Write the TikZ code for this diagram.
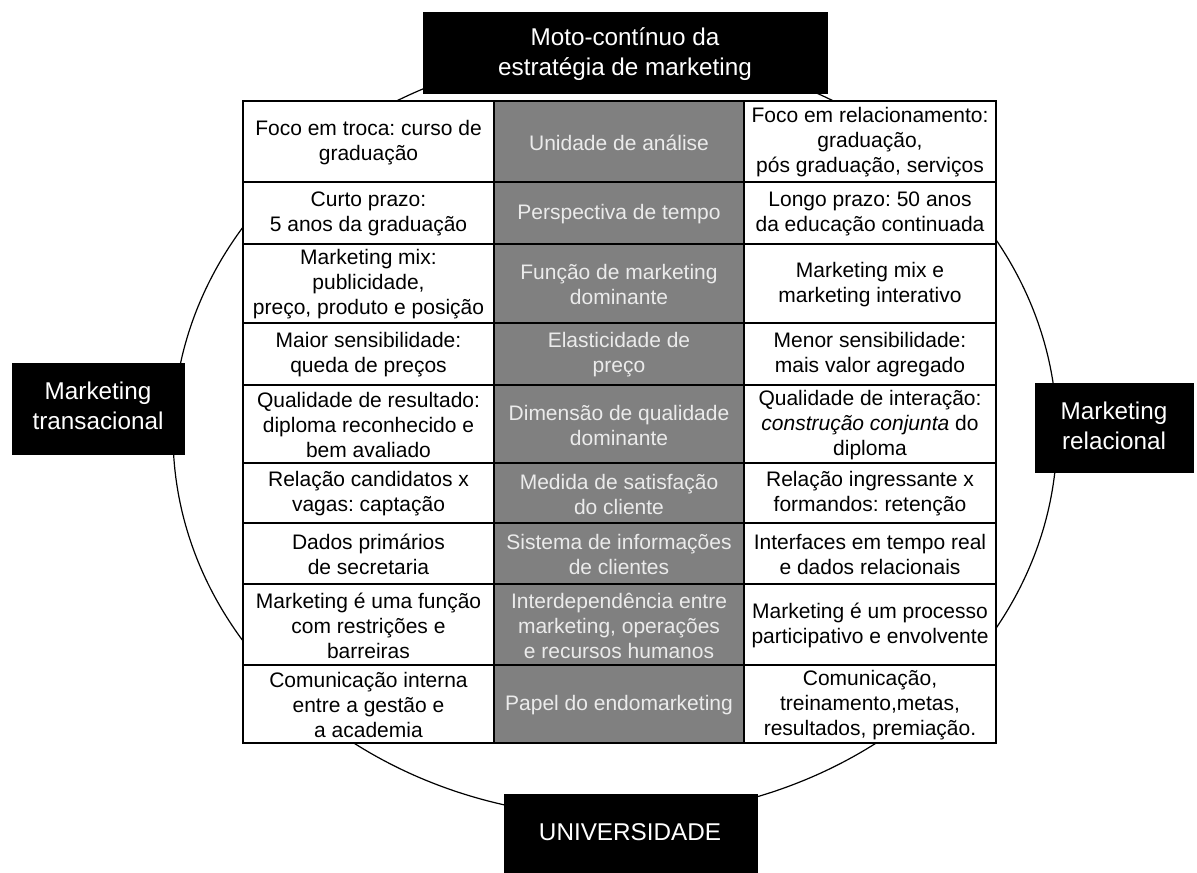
\documentclass[tikz,border=0pt]{standalone}
\usepackage{fontspec}
\setmainfont{Liberation Sans}
\frenchspacing
\definecolor{midgray}{RGB}{128,128,128}
\definecolor{midtext}{RGB}{235,235,235}
\begin{document}
\begin{tikzpicture}[x=0.75pt,y=-0.75pt,
  cellline/.style={draw=black,line width=1.3pt},
  celltext/.style={align=center,inner sep=0pt,font=\fontsize{15.75}{18.75}\selectfont\frenchspacing},
  midtext/.style={celltext,text=midtext},
  blackbox/.style={fill=black,draw=black,text=white,align=center,inner sep=0pt,font=\fontsize{18.2}{22.5}\selectfont},
  ring/.style={draw=black,line width=0.9pt}]
\useasboundingbox (0,0) rectangle (1197,872);
% ring
\draw[ring] (615,434) ellipse [x radius=331.5pt, y radius=287.25pt];
% table
\foreach \i/\ya/\yb/\L/\M/\R in {
 1/101/182/{Foco em troca: curso de\\graduação}/{Unidade de análise}/{Foco em relacionamento:\\graduação,\\pós graduação, serviços},
 2/182/244/{Curto prazo:\\5 anos da graduação}/{Perspectiva de tempo}/{Longo prazo: 50 anos\\da educação continuada},
 3/244/323/{Marketing mix:\\publicidade,\\preço, produto e posição}/{Função de marketing\\dominante}/{Marketing mix e\\marketing interativo},
 4/323/385/{Maior sensibilidade:\\queda de preços}/{Elasticidade de\\preço}/{Menor sensibilidade:\\mais valor agregado},
 5/385/463/{Qualidade de resultado:\\diploma reconhecido e\\bem avaliado}/{Dimensão de qualidade\\dominante}/{Qualidade de interação:\\\textit{construção conjunta} do\\diploma},
 6/463/523/{Relação candidatos x\\vagas: captação}/{Medida de satisfação\\do cliente}/{Relação ingressante x\\formandos: retenção},
 7/523/584/{Dados primários\\de secretaria}/{Sistema de informações\\de clientes}/{Interfaces em tempo real\\e dados relacionais},
 8/584/665/{Marketing é uma função\\com restrições e\\barreiras}/{Interdependência entre\\marketing, operações\\e recursos humanos}/{Marketing é um processo\\participativo e envolvente},
 9/665/743/{Comunicação interna\\entre a gestão e\\a academia}/{Papel do endomarketing}/{Comunicação,\\treinamento,metas,\\resultados, premiação.}}
{
  \draw[cellline,fill=white] (243,\ya) rectangle (494,\yb);
  \draw[cellline,fill=midgray] (494,\ya) rectangle (744,\yb);
  \draw[cellline,fill=white] (744,\ya) rectangle (996,\yb);
  \node[celltext] (L\i) at (368.5,{(\ya+\yb)/2+1}) {\L};
  \node[midtext] (M\i) at (619,{(\ya+\yb)/2+1}) {\M};
  \node[celltext] (R\i) at (870,{(\ya+\yb)/2+1}) {\R};
}
% black label boxes
\path[blackbox] (423,12) rectangle (827,93);
\node[blackbox,fill=none,draw=none] (top) at (625,54) {Moto-contínuo da\\estratégia de marketing};
\path[blackbox] (12,363) rectangle (184,454);
\node[blackbox,fill=none,draw=none] (left) at (98,406) {Marketing\\transacional};
\path[blackbox] (1035,383) rectangle (1193,472);
\node[blackbox,fill=none,draw=none] (right) at (1114,426) {Marketing\\relacional};
\path[blackbox] (504,794) rectangle (757,872);
\node[blackbox,fill=none,draw=none] (bottom) at (630,832) {UNIVERSIDADE};
\end{tikzpicture}
\end{document}
